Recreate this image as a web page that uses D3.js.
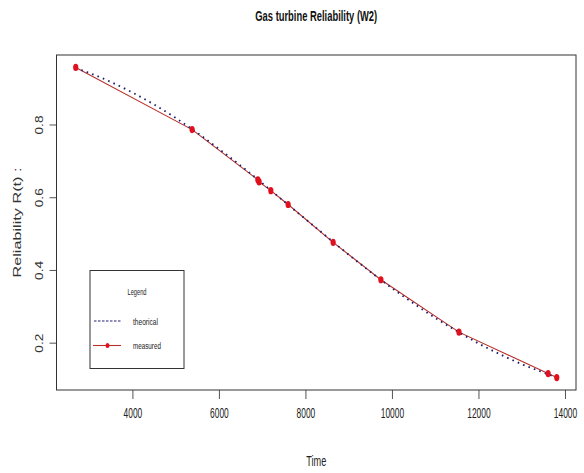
<!DOCTYPE html>
<html>
<head>
<meta charset="utf-8">
<script src="https://cdn.jsdelivr.net/npm/d3@7"></script>
<style>
  html, body { margin: 0; padding: 0; background: #fff; }
  svg text { font-family: "Liberation Sans Narrow", "Arial Narrow", "Liberation Sans", Arial, sans-serif; }
</style>
</head>
<body>
<svg id="chart" width="584" height="473"></svg>
<script>
// Measured reliability of the gas turbine
const measuredTime = [2690, 5380, 6900, 6930, 7200, 7600, 8640, 9745, 11550, 13610, 13810];
const measuredR    = [0.957, 0.786, 0.648, 0.642, 0.618, 0.580, 0.476, 0.373, 0.229, 0.115, 0.104];

// Theoretical Weibull reliability curve, sampled along the time axis
const theoryTime = [2690, 3000, 3500, 4000, 4500, 5000, 5500, 6000, 6500, 7000, 7500, 8000,
                    8500, 9000, 9500, 10000, 10500, 11000, 11500, 12000, 12500, 13000, 13500, 13810];
const theoryR    = [0.955, 0.942, 0.917, 0.888, 0.855, 0.818, 0.777, 0.733, 0.687, 0.639, 0.589, 0.540,
                    0.491, 0.442, 0.395, 0.350, 0.308, 0.268, 0.232, 0.198, 0.168, 0.141, 0.118, 0.104];

const xTicks = [4000, 6000, 8000, 10000, 12000, 14000];
const yTicks = [0.2, 0.4, 0.6, 0.8];

const svg = d3.select("#chart");
const plot = { left: 56.5, right: 576, top: 55, bottom: 390 };

// 4% padding on both ends of the data range
function padded(values) {
  const [lo, hi] = d3.extent(values);
  const p = (hi - lo) * 0.04;
  return [lo - p, hi + p];
}

// Squeeze a horizontal label to a given width around its own anchor point
function squeeze(sel, widthOf) {
  sel.each(function (d) {
    const t = d3.select(this);
    const cx = +t.attr("x") || 0;
    const natural = this.getComputedTextLength();
    const k = natural > 0 ? widthOf(d) / natural : 1;
    t.attr("x", 0).attr("transform", `translate(${cx},0) scale(${k},1)`);
  });
}

const x = d3.scaleLinear().domain(padded(measuredTime.concat(theoryTime))).range([plot.left, plot.right]);
const y = d3.scaleLinear().domain(padded(measuredR.concat(theoryR))).range([plot.bottom, plot.top]);

// Title
svg.append("text")
  .attr("x", (plot.left + plot.right) / 2).attr("y", 21)
  .attr("text-anchor", "middle")
  .attr("font-size", 14).attr("font-weight", "bold").attr("fill", "#111")
  .text("Gas turbine Reliability (W2)")
  .call(squeeze, () => 122);

// Bottom axis
const xAxis = svg.append("g").attr("transform", `translate(0,${plot.bottom})`)
  .call(d3.axisBottom(x).tickValues(xTicks).tickSize(9).tickFormat(d3.format("d")));
xAxis.select(".domain").remove();
xAxis.selectAll(".tick line").attr("stroke", "#555");
xAxis.selectAll(".tick text")
  .attr("y", 28).attr("dy", null)
  .attr("font-size", 14).attr("fill", "#222")
  .call(squeeze, d => String(d).length * 4.8 - 0.5);

// Left axis with rotated labels
const yAxis = svg.append("g").attr("transform", `translate(${plot.left},0)`)
  .call(d3.axisLeft(y).tickValues(yTicks).tickSize(7).tickFormat(d3.format(".1f")));
yAxis.select(".domain").remove();
yAxis.selectAll(".tick line").attr("stroke", "#555");
yAxis.selectAll(".tick text")
  .attr("x", null).attr("dy", null)
  .attr("transform", "translate(-17.5,0) rotate(-90)")
  .attr("text-anchor", "middle").attr("dy", "0.35em")
  .attr("font-size", 11).attr("fill", "#333")
  .attr("textLength", 19).attr("lengthAdjust", "spacingAndGlyphs");

// Axis titles
svg.append("text")
  .attr("x", (plot.left + plot.right) / 2).attr("y", 466)
  .attr("text-anchor", "middle")
  .attr("font-size", 14).attr("fill", "#222")
  .text("Time")
  .call(squeeze, () => 20);

svg.append("text")
  .attr("transform", `translate(17,${(plot.top + plot.bottom) / 2}) rotate(-90)`)
  .attr("text-anchor", "middle").attr("dy", "0.35em")
  .attr("font-size", 11.5).attr("fill", "#333")
  .attr("textLength", 110).attr("lengthAdjust", "spacingAndGlyphs")
  .text("Reliability R(t) :");

// Plot frame
svg.append("rect")
  .attr("x", plot.left).attr("y", plot.top)
  .attr("width", plot.right - plot.left).attr("height", plot.bottom - plot.top)
  .attr("fill", "none").attr("stroke", "#333").attr("stroke-width", 1);

const measured = measuredTime.map((t, i) => ({ t, r: measuredR[i] }));
const theory = theoryTime.map((t, i) => ({ t, r: theoryR[i] }));

// Measured line
svg.append("path")
  .datum(measured)
  .attr("fill", "none").attr("stroke", "#b8302a").attr("stroke-width", 1.1)
  .attr("d", d3.line().x(d => x(d.t)).y(d => y(d.r)));

// Theoretical curve (dotted)
svg.append("path")
  .datum(theory)
  .attr("fill", "none").attr("stroke", "#1d1d70").attr("stroke-width", 1.8)
  .attr("stroke-dasharray", "1.6,4.2")
  .attr("d", d3.line().curve(d3.curveMonotoneX).x(d => x(d.t)).y(d => y(d.r)));

// Measured points
svg.append("g").selectAll("ellipse")
  .data(measured).join("ellipse")
  .attr("cx", d => x(d.t)).attr("cy", d => y(d.r))
  .attr("rx", 2.6).attr("ry", 3.6)
  .attr("fill", "#e0101e");

// Legend
const lg = svg.append("g");
lg.append("rect")
  .attr("x", 90).attr("y", 270.5).attr("width", 94).attr("height", 98)
  .attr("fill", "#fff").attr("stroke", "#333").attr("stroke-width", 1);
lg.append("text")
  .attr("x", 137).attr("y", 295)
  .attr("text-anchor", "middle").attr("font-size", 9).attr("fill", "#222")
  .text("Legend")
  .call(squeeze, () => 19);
lg.append("line")
  .attr("x1", 94).attr("x2", 121).attr("y1", 321).attr("y2", 321)
  .attr("stroke", "#1d1d70").attr("stroke-width", 1).attr("stroke-dasharray", "2.5,1.5");
lg.append("text")
  .attr("x", 133).attr("y", 325)
  .attr("font-size", 9).attr("fill", "#222")
  .text("theorical")
  .call(squeeze, () => 25);
lg.append("line")
  .attr("x1", 93).attr("x2", 121).attr("y1", 345.5).attr("y2", 345.5)
  .attr("stroke", "#b8302a").attr("stroke-width", 1.1);
lg.append("ellipse")
  .attr("cx", 107.5).attr("cy", 345.5).attr("rx", 2).attr("ry", 2.6)
  .attr("fill", "#e0101e");
lg.append("text")
  .attr("x", 133).attr("y", 349)
  .attr("font-size", 9).attr("fill", "#222")
  .text("measured")
  .call(squeeze, () => 28);
</script>
</body>
</html>
